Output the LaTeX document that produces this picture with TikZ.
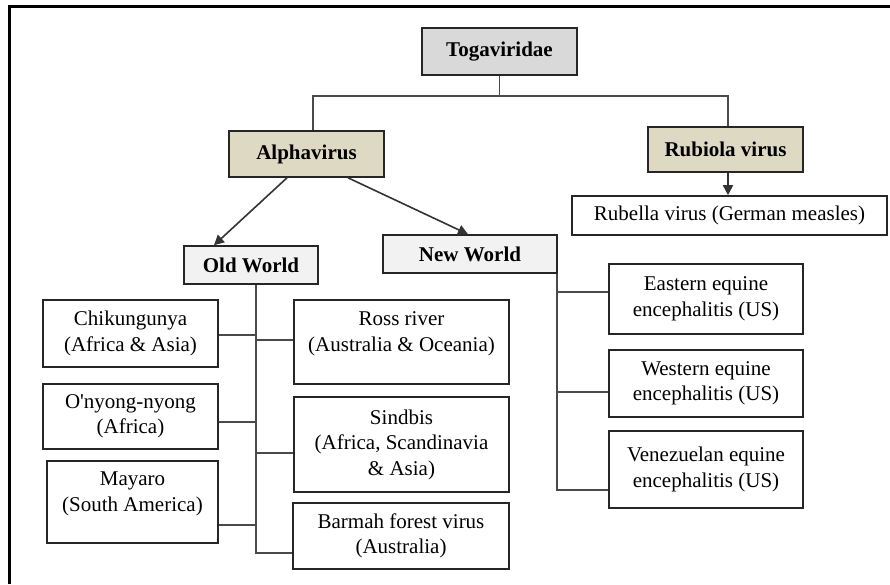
\documentclass[tikz,border=0pt]{standalone}
\usepackage{fontspec}
\setmainfont{Liberation Serif}
\usetikzlibrary{arrows.meta}
\definecolor{togagray}{HTML}{D9D9D9}
\definecolor{genustan}{HTML}{DDD9C3}
\definecolor{worldgray}{HTML}{F2F2F2}
\definecolor{linkgray}{HTML}{4A4A4A}
\tikzset{
  box/.style={draw=black!85,line width=1.6pt,inner sep=0pt,align=center,
    font=\fontsize{21}{25.5}\selectfont},
  family box/.style={box,fill=togagray,font=\fontsize{21}{25.5}\selectfont\bfseries},
  genus box/.style={box,fill=genustan,font=\fontsize{21}{25.5}\selectfont\bfseries},
  world box/.style={box,fill=worldgray,font=\fontsize{21}{25.5}\selectfont\bfseries},
  link/.style={draw=linkgray,line width=1.6pt},
  link arrow/.style={link,draw=black!80,-{Triangle[length=10pt,width=10pt]}},
}

\begin{document}
\begin{tikzpicture}[x=1pt,y=-1pt]
    \useasboundingbox (0,0) rectangle (890,584);
    % frame
    \draw[line width=3pt] (9,584) -- (9,6) -- (890,6);
    % top levels
    \node[family box,minimum width=155,minimum height=47] (toga) at (499.5,51.5) {Togaviridae};
    \node[genus box,minimum width=155,minimum height=46] (alpha) at (306.5,154) {Alphavirus};
    \node[genus box,minimum width=155,minimum height=45] (rubiola) at (725.5,149.5) {Rubiola virus};
    \node[box,minimum width=315,minimum height=39] (rubella) at (729.5,215.5) {Rubella virus (German measles)};
    \node[world box,minimum width=134,minimum height=38] (oldw) at (251,265) {Old World};
    \node[world box,minimum width=174,minimum height=38] (neww) at (470,254) {New World};
    % old world
    \node[box,minimum width=175,minimum height=67] (chik) at (130.5,333.5) {Chikungunya\\(Africa \& Asia)};
    \node[box,minimum width=175,minimum height=65] (onyong) at (130.5,416.5) {O\textquotesingle nyong-nyong\\(Africa)};
    \node[box,minimum width=171,minimum height=82] (mayaro) at (132.5,502) {Mayaro\\(South America)\\[-12pt]\strut};
    \node[box,minimum width=215,minimum height=84] (ross) at (401.5,342) {Ross river\\(Australia \& Oceania)\\[-12pt]\strut};
    \node[box,minimum width=215,minimum height=95] (sindbis) at (401.5,444.5) {Sindbis\\(Africa, Scandinavia\\\& Asia)};
    \node[box,minimum width=216,minimum height=66] (barmah) at (401,536) {Barmah forest virus\\(Australia)};
    % new world
    \node[box,minimum width=194,minimum height=70] (eastern) at (706,299) {Eastern equine\\encephalitis (US)};
    \node[box,minimum width=194,minimum height=67] (western) at (706,383.5) {Western equine\\encephalitis (US)};
    \node[box,minimum width=194,minimum height=77] (venez) at (706,469.5) {Venezuelan equine\\encephalitis (US)};

    \coordinate (bar) at (0,96);
    \draw[link] (toga.south) -- (toga.south |- bar);
    \draw[link] ([xshift=6.5]alpha.north) -- ([xshift=6.5]alpha.north |- bar) -| ([xshift=2.5]rubiola.north);
    \draw[link arrow] ([xshift=-19.5]alpha.south) -- ([xshift=-37]oldw.north);
    \draw[link arrow] ([xshift=41.5]alpha.south) -- ([xshift=-2]neww.north);
    \draw[link arrow] ([xshift=2.5]rubiola.south) -- ([xshift=-1.5]rubella.north);

    \coordinate (oldx) at ([xshift=5]oldw.south);
    \draw[link] (oldx) |- ([yshift=-17]barmah.west);
    \draw[link] ([yshift=-1.5]chik.east) -- ([yshift=-1.5]chik.east -| oldx);
    \draw[link] ([yshift=-5.5]onyong.east) -- ([yshift=-5.5]onyong.east -| oldx);
    \draw[link] ([yshift=-23]mayaro.east) -- ([yshift=-23]mayaro.east -| oldx);
    \draw[link] ([yshift=2]ross.west) -- ([yshift=2]ross.west -| oldx);
    \draw[link] ([yshift=-8.5]sindbis.west) -- ([yshift=-8.5]sindbis.west -| oldx);

    \coordinate (newx) at ([xshift=-1]neww.south east);
    \draw[link] (newx) |- ([yshift=-20.5]venez.west);
    \draw[link] ([yshift=7]eastern.west) -- ([yshift=7]eastern.west -| newx);
    \draw[link] ([yshift=-8.5]western.west) -- ([yshift=-8.5]western.west -| newx);
\end{tikzpicture}
\end{document}
